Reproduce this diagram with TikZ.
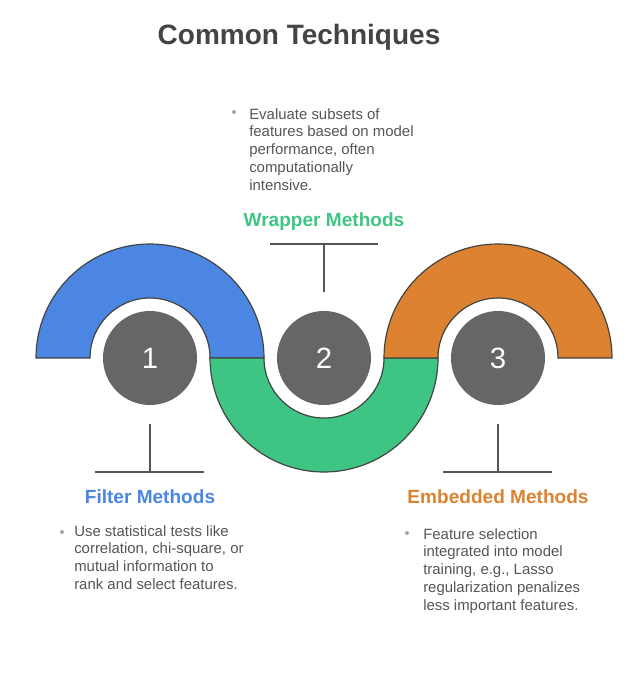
\documentclass[tikz,border=0pt]{standalone}
\usepackage{fontspec}
\setmainfont{Liberation Sans}
\usepackage{xcolor}
\usepackage{tikz}

\definecolor{filterblue}{RGB}{74,134,226}
\definecolor{wrappergreen}{RGB}{62,197,132}
\definecolor{embedorange}{RGB}{220,130,48}
\definecolor{edgegray}{RGB}{68,68,68}
\definecolor{discgray}{RGB}{102,102,102}
\definecolor{bodygray}{RGB}{85,85,85}
\definecolor{dotgray}{RGB}{165,165,165}

\tikzset{
  band/.style={draw=edgegray, line width=0.9pt},
  numdisc/.style={circle, fill=discgray, minimum size=70.5pt, inner sep=0pt, text=white, font=\fontsize{22}{22}\selectfont},
  leader/.style={draw=bodygray, line width=1.1pt},
  heading/.style={anchor=base, inner sep=0pt, font=\fontsize{14.3}{16}\selectfont\bfseries},
  bodytext/.style={anchor=north west, inner sep=0pt, align=left, text=bodygray, font=\fontsize{11.2}{13.35}\selectfont},
  bulletdot/.style={circle, fill=dotgray, minimum size=3pt, inner sep=0pt},
}

\begin{document}
\begin{tikzpicture}[x=0.75pt,y=0.75pt,yscale=-1,xscale=1]
\useasboundingbox (0,0) rectangle (636,677);

% Title
\node[anchor=base, inner sep=0pt, text=edgegray, font=\fontsize{21}{24}\selectfont\bfseries] (title) at (299,45) {Common Techniques};

%Arc [filter, upper half]
\draw[band, fill=filterblue] (36,358) arc[start angle=180, end angle=360, radius=114] -- (210,358) arc[start angle=0, end angle=-180, radius=60] -- cycle;
%Arc [wrapper, lower half]
\draw[band, fill=wrappergreen] (210,358) arc[start angle=180, end angle=0, radius=114] -- (384,358) arc[start angle=0, end angle=180, radius=60] -- cycle;
%Arc [embedded, upper half]
\draw[band, fill=embedorange] (384,358) arc[start angle=180, end angle=360, radius=114] -- (558,358) arc[start angle=0, end angle=-180, radius=60] -- cycle;

% Number discs
\node[numdisc] (n1) at (150,358) {1};
\node[numdisc] (n2) at (324,358) {2};
\node[numdisc] (n3) at (498,358) {3};

%Straight Lines [filter]
\coordinate (f-top) at (150,424);
\coordinate (f-mid) at (150,472);
\coordinate (f-left) at (95,472);
\coordinate (f-right) at (204,472);
\draw[leader] (f-top) -- (f-mid);
\draw[leader] (f-left) -- (f-right);
%Straight Lines [wrapper]
\coordinate (w-bot) at (324,292);
\coordinate (w-mid) at (324,244);
\coordinate (w-left) at (270,244);
\coordinate (w-right) at (378,244);
\draw[leader] (w-bot) -- (w-mid);
\draw[leader] (w-left) -- (w-right);
%Straight Lines [embedded]
\coordinate (e-top) at (498,424);
\coordinate (e-mid) at (498,472);
\coordinate (e-left) at (443,472);
\coordinate (e-right) at (552,472);
\draw[leader] (e-top) -- (e-mid);
\draw[leader] (e-left) -- (e-right);

% Text Node
\node[heading, text=filterblue] (filter) at (150,503) {Filter Methods};
\node[bulletdot] (fdot) at (62,532) {};
\node[bodytext] (fbody) at (74,525) {Use statistical tests like\\correlation, chi-square, or\\mutual information to\\rank and select features.};

% Text Node
\node[heading, text=wrappergreen] (wrapper) at (324,226) {Wrapper Methods};
\node[bulletdot] (wdot) at (234,112) {};
\node[bodytext] (wbody) at (249,108) {Evaluate subsets of\\features based on model\\performance, often\\computationally\\intensive.};

% Text Node
\node[heading, text=embedorange] (embedded) at (498,503) {Embedded Methods};
\node[bulletdot] (edot) at (407,533) {};
\node[bodytext] (ebody) at (423,528) {Feature selection\\integrated into model\\training, e.g., Lasso\\regularization penalizes\\less important features.};

\end{tikzpicture}
\end{document}
